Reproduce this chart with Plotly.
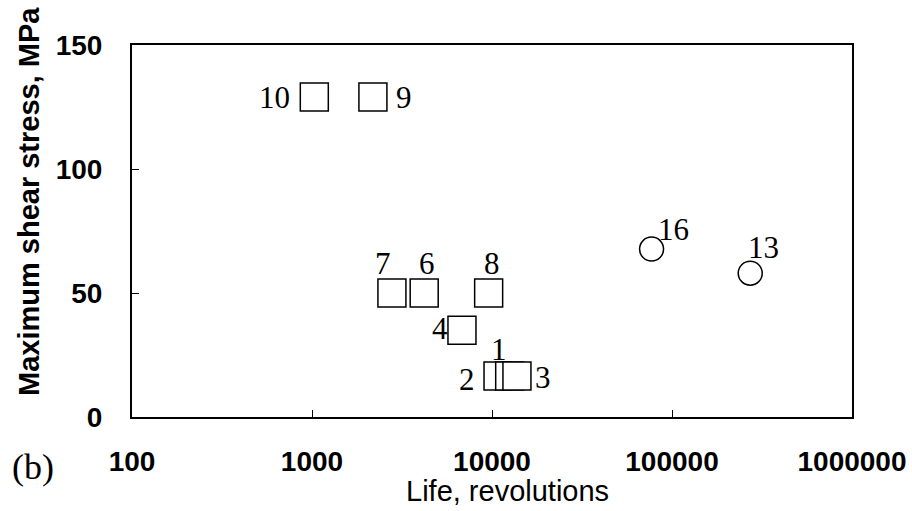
import math
import plotly.graph_objects as go

# Rolling-contact fatigue tests: life vs. maximum shear stress
sq_ids = ["10", "9", "7", "6", "8", "4", "1", "2", "3"]
sq_life = [1030, 2180, 2780, 4200, 9580, 6810, 10800, 12540, 13760]
sq_stress = [129, 129, 50, 50, 50, 35, 16.5, 16.5, 16.5]

ci_ids = ["16", "13"]
ci_life = [77000, 272000]
ci_stress = [67.7, 58]

x_tickvals = [100, 1000, 10000, 100000, 1000000]
x_ticktext = ["100", "1000", "10000", "100000", "1000000"]
y_tickvals = [0, 50, 100, 150]
y_ticktext = ["0", "50", "100", "150"]

# label offsets from marker centre, in pixels (dx, dy with dy up)
sq_label_offsets = [(-40, 0), (31, 0), (-9, 30), (3, 30), (3, 30),
                    (-22, 2), (1, 27), (-43, -3), (26, -1)]
ci_label_offsets = [(22, 20), (13, 26)]

serif = "Liberation Serif, Times New Roman, serif"
sans = "Liberation Sans, Arial, sans-serif"

fig = go.Figure()
fig.add_trace(go.Scatter(
    x=sq_life, y=sq_stress, mode="markers",
    marker=dict(symbol="square", size=28, color="white",
                line=dict(color="black", width=1.5)),
    showlegend=False, cliponaxis=False,
))
fig.add_trace(go.Scatter(
    x=ci_life, y=ci_stress, mode="markers",
    marker=dict(symbol="circle", size=24, color="white",
                line=dict(color="black", width=1.5)),
    showlegend=False, cliponaxis=False,
))

annotations = []
for ids, xs, ys, offs in [(sq_ids, sq_life, sq_stress, sq_label_offsets),
                          (ci_ids, ci_life, ci_stress, ci_label_offsets)]:
    for t, xv, yv, (dx, dy) in zip(ids, xs, ys, offs):
        annotations.append(dict(
            x=math.log10(xv), y=yv, xref="x", yref="y", text=t,
            showarrow=False, xshift=dx, yshift=dy,
            xanchor="center", yanchor="middle",
            font=dict(family=serif, size=31, color="black"),
        ))

annotations.append(dict(
    x=-0.143, y=0.578, xref="paper", yref="paper",
    xanchor="center", yanchor="middle",
    text="<b>Maximum shear stress, MPa</b>", textangle=-90, showarrow=False,
    font=dict(family=sans, size=29, color="black"),
))
annotations.append(dict(
    x=0.521, y=-0.2, xref="paper", yref="paper",
    xanchor="center", yanchor="middle",
    text="Life, revolutions", showarrow=False,
    font=dict(family=sans, size=29, color="black"),
))
annotations.append(dict(
    x=-0.1375, y=-0.134, xref="paper", yref="paper",
    xanchor="center", yanchor="middle",
    text="(b)", showarrow=False,
    font=dict(family=serif, size=36, color="black"),
))

fig.update_layout(
    width=912, height=511,
    margin=dict(l=132, r=60, t=45, b=94),
    paper_bgcolor="white", plot_bgcolor="white",
    annotations=annotations,
    xaxis=dict(
        type="log", range=[2, 6], automargin=False,
        tickvals=x_tickvals, ticktext=x_ticktext,
        ticks="inside", ticklen=7, tickwidth=1, tickcolor="black",
        showline=True, linecolor="black", linewidth=2, mirror=True,
        showgrid=False, zeroline=False,
        ticklabelstandoff=18,
        tickfont=dict(family=sans, size=28, color="black", weight="bold"),
    ),
    yaxis=dict(
        range=[0, 150], automargin=False,
        tickvals=y_tickvals, ticktext=y_ticktext,
        ticks="inside", ticklen=7, tickwidth=1, tickcolor="black",
        showline=True, linecolor="black", linewidth=2, mirror=True,
        showgrid=False, zeroline=False,
        ticklabelstandoff=22,
        tickfont=dict(family=sans, size=28, color="black", weight="bold"),
    ),
)

fig.write_html("out.html")
